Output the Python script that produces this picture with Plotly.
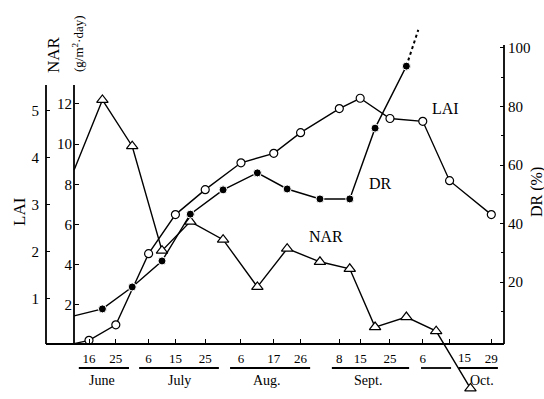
import plotly.graph_objects as go
import pandas as pd

YEAR = 1975

# ---------------- data ----------------
# LAI sampling dates (also the x tick labels)
lai_dates = ["06-16", "06-25", "07-06", "07-15", "07-25", "08-06", "08-17",
             "08-26", "09-08", "09-15", "09-25", "10-06", "10-15", "10-29"]
lai_values = [0.12, 0.45, 1.96, 2.79, 3.32, 3.89, 4.09, 4.53, 5.04, 5.26,
              4.83, 4.77, 3.51, 2.79]

# NAR / DR are plotted at the middle of each sampling interval
interval_dates = ["06-20 12:00", "06-30 12:00", "07-10 12:00", "07-20 00:00",
                  "07-31 00:00", "08-11 12:00", "08-21 12:00", "09-01 12:00",
                  "09-11 12:00", "09-20 00:00", "09-30 12:00", "10-10 12:00",
                  "10-22 00:00"]
nar_values = [12.2, 9.9, 4.7, 6.15, 5.25, 2.9, 4.8, 4.15, 3.8, 0.9, 1.4, 0.7, -2.15]
dr_values = [10.8, 18.3, 27.2, 43.2, 51.5, 57.3, 51.8, 48.4, 48.4, 72.6, 93.8]

# values where the curves meet the NAR axis (left edge of the curves)
edge_date = "06-11"
lai_edge = 0.05
nar_edge = 8.72
dr_edge = 8.4

# dotted extrapolation of DR
dr_proj_dates = ["09-30 12:00", "10-04 12:00"]
dr_proj_values = [93.8, 106.2]

tick_days = [str(int(d.split("-")[1])) for d in lai_dates]
month_names = ["June", "July", "Aug.", "Sept.", "Oct."]
offset_tick = "10-15"   # label drawn right of its tick (the NAR line crosses)


def dt(s):
    return pd.Timestamp(f"{YEAR}-{s}")


FONT = "Liberation Serif"
W, H = 544, 399
L, R, T, B = 46, 504, 25, 395  # plot area in pixels


def px(x):
    return (x - L) / (R - L)


def py(y):
    return (B - y) / (B - T)


fig = go.Figure()

lai_x = [dt(edge_date)] + [dt(d) for d in lai_dates]
lai_y = [lai_edge] + lai_values
nar_x = [dt(edge_date)] + [dt(d) for d in interval_dates]
nar_y = [nar_edge] + nar_values
dr_x = [dt(edge_date)] + [dt(d) for d in interval_dates[:len(dr_values)]]
dr_y = [dr_edge] + dr_values

fig.add_trace(go.Scatter(
    x=nar_x, y=nar_y, yaxis="y2", mode="lines+markers", name="NAR",
    line=dict(color="black", width=1.4),
    marker=dict(symbol="triangle-up", size=[0] + [10] * len(nar_values),
                color="white", opacity=1, line=dict(color="black", width=1.2)),
    cliponaxis=False))

fig.add_trace(go.Scatter(
    x=[dt(d) for d in dr_proj_dates], y=dr_proj_values, yaxis="y3", mode="lines",
    line=dict(color="black", width=2, dash="dot"), name="DR proj"))

fig.add_trace(go.Scatter(
    x=dr_x, y=dr_y, yaxis="y3", mode="lines+markers", name="DR",
    line=dict(color="black", width=1.4),
    marker=dict(symbol="circle", size=[0] + [8] * len(dr_values), color="black",
                opacity=1)))

fig.add_trace(go.Scatter(
    x=lai_x, y=lai_y, yaxis="y", mode="lines+markers", name="LAI",
    line=dict(color="black", width=1.4),
    marker=dict(symbol="circle", size=[0] + [8] * len(lai_values),
                color="white", opacity=1, line=dict(color="black", width=1.2))))

# ---------------- axes ----------------
x_start = dt("06-16") - pd.Timedelta(days=14.43)
x_end = dt("06-16") + pd.Timedelta(days=139.26)
base_pos = py(344)

tick_font = dict(family=FONT, size=15, color="black")

main_ticks = [(dt(d), t) for d, t in zip(lai_dates, tick_days) if d != offset_tick]

fig.update_layout(
    template="none",
    width=W, height=H,
    margin=dict(l=L, r=W - R, t=T, b=H - B, pad=0),
    paper_bgcolor="white", plot_bgcolor="white",
    showlegend=False,
    font=dict(family=FONT, color="black"),
    xaxis=dict(
        type="date", range=[x_start, x_end],
        tickmode="array", tickvals=[v for v, _ in main_ticks],
        ticktext=[t for _, t in main_ticks],
        ticks="inside", ticklen=4, tickwidth=1.3, tickcolor="black",
        minor=dict(tickvals=[dt(offset_tick)], ticks="inside", ticklen=4,
                   tickwidth=1.3, tickcolor="black", showgrid=False),
        showline=True, linecolor="black", linewidth=1.8,
        showgrid=False, zeroline=False, anchor="free", position=base_pos,
        tickfont=dict(family=FONT, size=13, color="black"),
        ticklabelstandoff=2, automargin=False),
    yaxis=dict(
        range=[-1.04, 6.815], tickmode="array", tickvals=[1, 2, 3, 4, 5],
        ticks="inside", ticklen=4, tickcolor="black", tickwidth=1.2,
        showline=False, showgrid=False, zeroline=False,
        tickfont=tick_font, anchor="x", side="left",
        ticklabelstandoff=6, automargin=False),
    yaxis2=dict(
        range=[-2.478, 15.93], tickmode="array", tickvals=[2, 4, 6, 8, 10, 12],
        ticks="inside", ticklen=4, tickcolor="black", tickwidth=1.2,
        showline=False, showgrid=False, zeroline=False,
        tickfont=tick_font, overlaying="y", anchor="free", position=px(74),
        side="left", ticklabelstandoff=2, automargin=False),
    yaxis3=dict(
        range=[-18.63, 107.86], tickmode="array", tickvals=[20, 40, 60, 80, 100],
        ticks="inside", ticklen=4, tickcolor="black", tickwidth=1.2,
        minor=dict(tickvals=[10, 30, 50, 70, 90], ticks="inside", ticklen=3,
                   tickcolor="black", tickwidth=1, showgrid=False),
        showline=False, showgrid=False, zeroline=False,
        tickfont=tick_font, overlaying="y", anchor="x", side="right",
        ticklabelstandoff=3, automargin=False),
)

# vertical axis lines (only over their labelled span)
axis_lines = [(px(46), py(344), py(85)), (px(74), py(344), py(85)),
              (px(504), py(344), py(45))]
for xx, y0, y1 in axis_lines:
    fig.add_shape(type="line", xref="paper", yref="paper", x0=xx, x1=xx,
                  y0=y0, y1=y1, line=dict(color="black", width=1.8))

# month bars and labels
month_bars = [("06-12 14:00", "06-29 10:00"), ("07-02 20:00", "07-29 14:00"),
              ("08-02 08:00", "08-29 05:00"), ("09-05 12:00", "10-01 10:00"),
              ("10-05 10:00", "10-15 12:00"), ("10-18 00:00", "10-31 05:00")]
for a, b in month_bars:
    fig.add_shape(type="line", xref="x", yref="paper", x0=dt(a), x1=dt(b),
                  y0=py(368), y1=py(368), line=dict(color="black", width=1.8))

month_pos = ["06-20 10:00", "07-16 12:00", "08-14 16:00", "09-17 14:00", "10-25 22:00"]
for name, p in zip(month_names, month_pos):
    fig.add_annotation(x=dt(p), y=py(380), xref="x", yref="paper", text=name,
                       showarrow=False, font=dict(family=FONT, size=14, color="black"),
                       xanchor="center", yanchor="middle")

fig.add_annotation(x=dt(offset_tick), y=py(357), xref="x", yref="paper",
                   text=str(int(offset_tick.split("-")[1])),
                   xshift=15, showarrow=False,
                   font=dict(family=FONT, size=13, color="black"),
                   xanchor="center", yanchor="middle")

# axis titles
titles = [("LAI", 20, 212, 17), ("NAR", 54, 55, 17),
          ("(g/m<sup>2</sup>·day)", 78, 44, 13), ("DR (%)", 537, 192, 16)]
for text, x_, y_, s in titles:
    fig.add_annotation(x=px(x_), y=py(y_), xref="paper", yref="paper", text=text,
                       textangle=-90, showarrow=False, xanchor="center",
                       yanchor="middle", font=dict(family=FONT, size=s, color="black"))

# in-plot series labels
for text, x_, y_ in [("LAI", 445, 108), ("DR", 380, 183), ("NAR", 326, 237)]:
    fig.add_annotation(x=px(x_), y=py(y_), xref="paper", yref="paper", text=text,
                       showarrow=False, xanchor="center", yanchor="middle",
                       font=dict(family=FONT, size=16, color="black"))

fig.write_html("out.html")
